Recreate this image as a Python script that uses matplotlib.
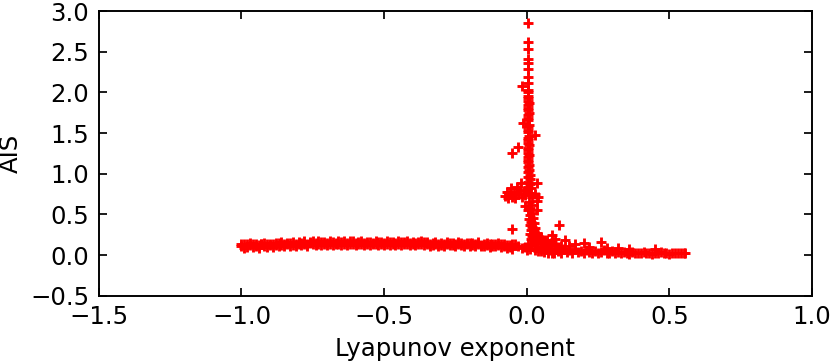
import matplotlib
matplotlib.use("Agg")
import matplotlib.pyplot as plt

# flat band of stable (negative exponent) runs, two passes over the same x grid
band_x = [
    -1.00, -0.99, -0.98, -0.97, -0.96, -0.95, -0.94, -0.93, -0.92, -0.91, -0.90,
    -0.89, -0.88, -0.87, -0.86, -0.85, -0.84, -0.83, -0.82, -0.81, -0.80,
    -0.79, -0.78, -0.77, -0.76, -0.75, -0.74, -0.73, -0.72, -0.71, -0.70,
    -0.69, -0.68, -0.67, -0.66, -0.65, -0.64, -0.63, -0.62, -0.61, -0.60,
    -0.59, -0.58, -0.57, -0.56, -0.55, -0.54, -0.53, -0.52, -0.51, -0.50,
    -0.49, -0.48, -0.47, -0.46, -0.45, -0.44, -0.43, -0.42, -0.41, -0.40,
    -0.39, -0.38, -0.37, -0.36, -0.35, -0.34, -0.33, -0.32, -0.31, -0.30,
    -0.29, -0.28, -0.27, -0.26, -0.25, -0.24, -0.23, -0.22, -0.21, -0.20,
    -0.19, -0.18, -0.17, -0.16, -0.15, -0.14, -0.13, -0.12, -0.11, -0.10,
    -0.09, -0.08, -0.07, -0.06, -0.05,
]
band_y = [
    0.11, 0.13, 0.10, 0.12, 0.14, 0.11, 0.12, 0.13, 0.11, 0.14, 0.12,
    0.13, 0.12, 0.15, 0.12, 0.14, 0.13, 0.15, 0.12, 0.14, 0.13,
    0.15, 0.13, 0.14, 0.16, 0.13, 0.15, 0.14, 0.16, 0.13, 0.15,
    0.14, 0.16, 0.15, 0.13, 0.16, 0.14, 0.15, 0.17, 0.14, 0.15,
    0.16, 0.14, 0.15, 0.13, 0.16, 0.15, 0.14, 0.16, 0.13, 0.15,
    0.14, 0.16, 0.13, 0.15, 0.14, 0.16, 0.14, 0.13, 0.15, 0.14,
    0.15, 0.13, 0.14, 0.16, 0.13, 0.14, 0.15, 0.13, 0.14, 0.12,
    0.14, 0.13, 0.15, 0.12, 0.14, 0.13, 0.12, 0.14, 0.13, 0.15,
    0.12, 0.14, 0.13, 0.11, 0.14, 0.12, 0.13, 0.11, 0.14, 0.12,
    0.13, 0.11, 0.12, 0.10, 0.13,
]
band_y2 = [
    0.14, 0.09, 0.13, 0.15, 0.10, 0.14, 0.09, 0.13, 0.15, 0.10, 0.14,
    0.10, 0.15, 0.11, 0.16, 0.11, 0.15, 0.11, 0.16, 0.11, 0.16,
    0.12, 0.17, 0.11, 0.15, 0.17, 0.12, 0.17, 0.12, 0.16, 0.12,
    0.17, 0.12, 0.13, 0.17, 0.12, 0.17, 0.12, 0.13, 0.17, 0.12,
    0.13, 0.17, 0.12, 0.16, 0.12, 0.13, 0.17, 0.12, 0.16, 0.12,
    0.17, 0.12, 0.16, 0.12, 0.17, 0.12, 0.16, 0.17, 0.12, 0.16,
    0.12, 0.16, 0.17, 0.12, 0.16, 0.11, 0.12, 0.16, 0.11, 0.15,
    0.11, 0.16, 0.12, 0.15, 0.11, 0.16, 0.15, 0.11, 0.15, 0.11,
    0.15, 0.11, 0.16, 0.12, 0.11, 0.15, 0.10, 0.14, 0.11, 0.15,
    0.10, 0.14, 0.09, 0.12, 0.08,
]

# spike around the edge of chaos
peak_x = [
    0.005, 0.005, 0.004, 0.005, 0.004, 0.005, 0.004, 0.005, -0.017, 0.004,
    0.005, 0.003, 0.006, 0.004, 0.007, 0.003, 0.006, 0.004, 0.008, 0.003,
    0.006, -0.012, 0.004, 0.007, 0.003, 0.006, 0.004, 0.030, 0.008, 0.003,
    0.006, 0.004, -0.030, 0.007, -0.050, 0.003, 0.006, 0.004, 0.008, 0.003,
    0.006, 0.004, 0.009, 0.003, 0.007, 0.005, 0.010, 0.004, 0.012, 0.006,
    0.035, 0.010, 0.003, 0.015,
    -0.075, -0.070, -0.065, -0.060, -0.055, -0.050, -0.045, -0.040, -0.035,
    -0.030, -0.025, -0.020, -0.015, -0.010, -0.005, 0.000, 0.010, 0.020,
    0.030, 0.040, 0.035,
    0.008, 0.015, -0.005, 0.012, 0.035, 0.006, 0.018, 0.010, 0.022, 0.008,
    0.015, 0.025, 0.012, 0.020, 0.030, -0.050, 0.015, 0.025, 0.035, 0.010,
    0.020, 0.040, 0.030, 0.050, 0.015, 0.045, 0.060, 0.025, 0.035, 0.055,
    0.070, 0.080, 0.065, 0.040, 0.020, 0.005, -0.005, 0.010, 0.030, 0.050,
    0.000, -0.015, -0.030, -0.040,
]
peak_y = [
    2.85, 2.62, 2.53, 2.41, 2.36, 2.29, 2.19, 2.12, 2.08, 2.03,
    2.00, 1.96, 1.93, 1.90, 1.87, 1.84, 1.81, 1.78, 1.75, 1.72,
    1.69, 1.63, 1.66, 1.60, 1.57, 1.54, 1.51, 1.48, 1.47, 1.44,
    1.41, 1.38, 1.33, 1.35, 1.26, 1.32, 1.29, 1.26, 1.23, 1.20,
    1.17, 1.14, 1.11, 1.08, 1.05, 1.02, 0.99, 0.96, 0.93, 0.90,
    0.89, 0.87, 0.84, 0.83,
    0.73, 0.78, 0.70, 0.76, 0.82, 0.72, 0.78, 0.70, 0.84,
    0.75, 0.80, 0.88, 0.72, 0.79, 0.74, 0.81, 0.76, 0.72,
    0.75, 0.72, 0.67,
    0.65, 0.62, 0.60, 0.58, 0.56, 0.55, 0.52, 0.49, 0.46, 0.44,
    0.41, 0.39, 0.37, 0.35, 0.33, 0.32, 0.31, 0.29, 0.27, 0.26,
    0.24, 0.23, 0.21, 0.22, 0.20, 0.18, 0.19, 0.17, 0.15, 0.15,
    0.16, 0.13, 0.11, 0.10, 0.12, 0.14, 0.10, 0.07, 0.06, 0.05,
    0.06, 0.09, 0.11, 0.13,
]

# decaying tail for chaotic runs
tail_x = [
    0.04, 0.05, 0.06, 0.07, 0.08, 0.09, 0.10, 0.11, 0.12, 0.13, 0.14,
    0.15, 0.16, 0.17, 0.18, 0.19, 0.20, 0.21, 0.22, 0.23, 0.24,
    0.25, 0.26, 0.27, 0.28, 0.29, 0.30, 0.31, 0.32, 0.33, 0.34,
    0.35, 0.36, 0.37, 0.38, 0.39, 0.40, 0.41, 0.42, 0.43, 0.44,
    0.45, 0.46, 0.47, 0.48, 0.49, 0.50, 0.51, 0.52, 0.53, 0.54,
    0.55, 0.555,
    0.06, 0.07, 0.08, 0.09, 0.10, 0.11, 0.115, 0.135, 0.15, 0.17,
    0.20, 0.22, 0.26, 0.28, 0.32, 0.36, 0.45,
    0.09, 0.10, 0.085, 0.11, 0.12, 0.095, 0.075,
]
tail_y = [
    0.05, 0.08, 0.04, 0.10, 0.06, 0.03, 0.08, 0.05, 0.02, 0.07, 0.04,
    0.06, 0.03, 0.08, 0.04, 0.05, 0.02, 0.06, 0.04, 0.03, 0.05,
    0.02, 0.04, 0.06, 0.03, 0.02, 0.05, 0.03, 0.04, 0.02, 0.04,
    0.03, 0.01, 0.04, 0.02, 0.03, 0.02, 0.04, 0.02, 0.03, 0.01,
    0.03, 0.02, 0.04, 0.02, 0.03, 0.01, 0.03, 0.02, 0.03, 0.02,
    0.03, 0.02,
    0.14, 0.19, 0.12, 0.16, 0.13, 0.10, 0.37, 0.19, 0.11, 0.13,
    0.15, 0.10, 0.16, 0.09, 0.09, 0.08, 0.07,
    0.25, 0.20, 0.09, 0.06, 0.11, 0.02, 0.03,
]

x_ticks = [-1.5, -1.0, -0.5, 0.0, 0.5, 1.0]
y_ticks = [-0.5, 0.0, 0.5, 1.0, 1.5, 2.0, 2.5, 3.0]

plt.rcParams["font.family"] = "DejaVu Sans"
plt.rcParams["font.size"] = 12.7
plt.rcParams["axes.linewidth"] = 1.0
plt.rcParams["xtick.direction"] = "in"
plt.rcParams["ytick.direction"] = "in"
plt.rcParams["xtick.top"] = True
plt.rcParams["ytick.right"] = True
plt.rcParams["xtick.major.size"] = 4
plt.rcParams["ytick.major.size"] = 4
plt.rcParams["xtick.major.width"] = 0.9
plt.rcParams["ytick.major.width"] = 0.9
plt.rcParams["xtick.major.pad"] = 5
plt.rcParams["ytick.major.pad"] = 5

fig = plt.figure(figsize=(6.0, 2.6065), dpi=138.5)
ax = fig.add_axes([0.119, 0.181, 0.858, 0.788])

series = [(band_x, band_y), (band_x, band_y2), (peak_x, peak_y), (tail_x, tail_y)]
for xs, ys in series:
    ax.plot(xs, ys, linestyle="none", marker="+", color="red",
            markersize=5.4, markeredgewidth=1.5)

ax.set_xlim(-1.5, 1.0)
ax.set_ylim(-0.5, 3.0)
ax.set_xticks(x_ticks)
ax.set_yticks(y_ticks)
ax.set_xlabel("Lyapunov exponent")
ax.set_ylabel("AIS")

fig.savefig("out.png", dpi=138.5, facecolor="white")
